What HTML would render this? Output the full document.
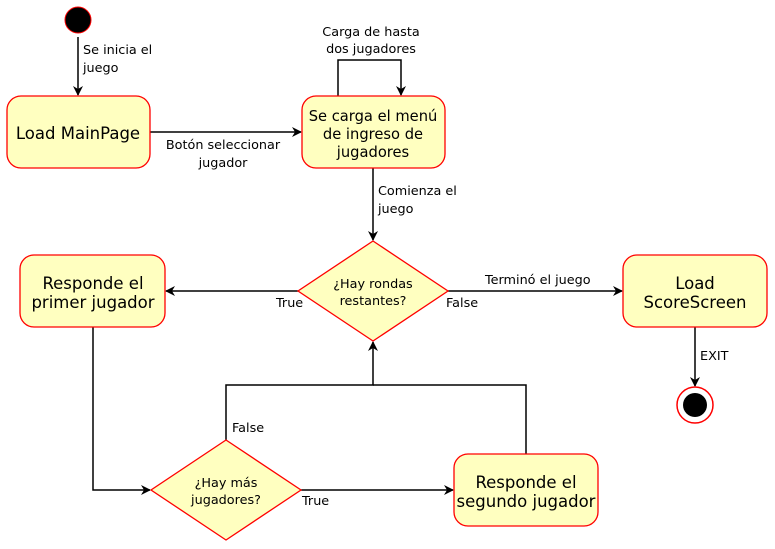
<!DOCTYPE html>
<html><head><meta charset="utf-8"><style>
html,body{margin:0;padding:0;background:#fff;}
svg{display:block;}
.n{font-family:"DejaVu Sans","Liberation Sans",sans-serif;font-size:16.5px;fill:#000;}
.l{font-family:"DejaVu Sans","Liberation Sans",sans-serif;font-size:12.8px;fill:#000;}
</style></head><body>
<svg width="775" height="549" viewBox="0 0 775 549" xmlns="http://www.w3.org/2000/svg">
<defs><marker id="a" markerWidth="10" markerHeight="10" refX="9" refY="5" orient="auto" markerUnits="userSpaceOnUse"><path d="M0,0 L10,5 L0,10 L3,5 Z" fill="#000"/></marker></defs>
<g stroke="#000" stroke-width="1.5" fill="none">
<line x1="78" y1="37" x2="78" y2="95" marker-end="url(#a)"/>
<line x1="150" y1="132" x2="301" y2="132" marker-end="url(#a)"/>
<polyline points="338,96 338,60 401,60 401,95" marker-end="url(#a)"/>
<line x1="373" y1="168" x2="373" y2="240" marker-end="url(#a)"/>
<line x1="298" y1="291" x2="166" y2="291" marker-end="url(#a)"/>
<line x1="448" y1="291" x2="622" y2="291" marker-end="url(#a)"/>
<line x1="695" y1="327" x2="695" y2="386" marker-end="url(#a)"/>
<polyline points="93,327 93,490 150,490" marker-end="url(#a)"/>
<line x1="301" y1="490" x2="453" y2="490" marker-end="url(#a)"/>
<polyline points="226,440 226,385 373,385 373,342" marker-end="url(#a)"/>
<polyline points="526,454 526,385 373,385"/>
</g>
<circle cx="78" cy="20" r="13" fill="#000" stroke="#f00" stroke-width="1"/>
<circle cx="695" cy="405" r="18" fill="#fff" stroke="#f00" stroke-width="1.5"/>
<circle cx="695" cy="405" r="12" fill="#000"/>
<g fill="#ffffc0" stroke="#f00" stroke-width="1.3">
<rect x="7" y="96" width="143" height="72" rx="14"/>
<rect x="302" y="96" width="143" height="72" rx="14"/>
<rect x="20" y="255" width="145" height="72" rx="14"/>
<rect x="623" y="255" width="144" height="72" rx="14"/>
<rect x="454" y="454" width="144" height="72" rx="14"/>
<polygon points="373,241 448,291 373,341 298,291"/>
<polygon points="226,440 301,490 226,540 151,490"/>
</g>
<g class="n" text-anchor="middle">
<text x="78" y="139">Load MainPage</text>
<text x="373" y="121" font-size="14.7">Se carga el menú</text>
<text x="373" y="139" font-size="14.7">de ingreso de</text>
<text x="373" y="157" font-size="14.7">jugadores</text>
<text x="93" y="289">Responde el</text>
<text x="93" y="308">primer jugador</text>
<text x="695" y="289">Load</text>
<text x="695" y="308">ScoreScreen</text>
<text x="526" y="488">Responde el</text>
<text x="526" y="507">segundo jugador</text>
</g>
<g class="l" text-anchor="middle">
<text x="373" y="288">¿Hay rondas</text>
<text x="373" y="305">restantes?</text>
<text x="226" y="487">¿Hay más</text>
<text x="226" y="504">jugadores?</text>
<text x="223" y="149">Botón seleccionar</text>
<text x="223" y="167">jugador</text>
<text x="371" y="36">Carga de hasta</text>
<text x="371" y="53">dos jugadores</text>
</g>
<g class="l">
<text x="83" y="54">Se inicia el</text>
<text x="83" y="72">juego</text>
<text x="378" y="195">Comienza el</text>
<text x="378" y="213">juego</text>
<text x="276" y="307">True</text>
<text x="446" y="307">False</text>
<text x="485" y="284">Terminó el juego</text>
<text x="700" y="360">EXIT</text>
<text x="232" y="432">False</text>
<text x="302" y="505">True</text>
</g>
</svg>
</body></html>
